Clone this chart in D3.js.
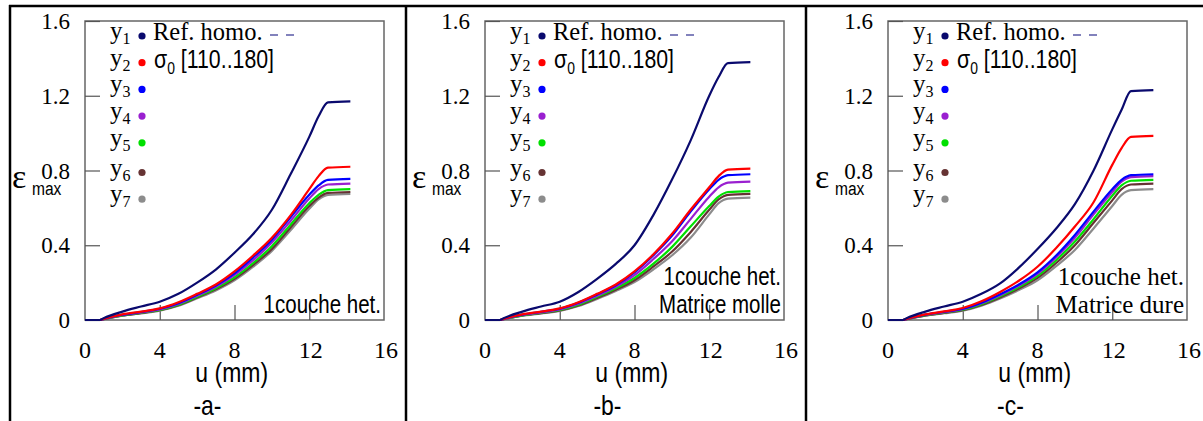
<!DOCTYPE html>
<html><head><meta charset="utf-8">
<script src="https://cdn.jsdelivr.net/npm/d3@7"></script>
<style>body{margin:0;background:#fff}</style>
</head><body>
<svg id="c" width="1203" height="421"></svg>
<script>
const uValues = [0, 0.8, 1, 2, 3, 4, 5, 6, 7, 8, 9, 10, 11, 12, 12.5, 13, 14.2];
const seriesNames = ["y1","y2","y3","y4","y5","y6","y7"];
const seriesColors = ["#0a0a6e","#ff0000","#0000ff","#9a1fd0","#00e000","#663333","#8c8c8c"];
const xTicks = [0, 4, 8, 12, 16];
const yTicks = [0, 0.4, 0.8, 1.2, 1.6];
const panelLetters = ["-a-","-b-","-c-"];

// panel a
const aY1 = [0,0,0.01,0.045,0.072,0.098,0.14,0.2,0.27,0.36,0.46,0.59,0.78,0.98,1.09,1.165,1.17];
const aY2 = [0,0,0.006,0.03,0.045,0.062,0.095,0.14,0.19,0.26,0.345,0.44,0.56,0.70,0.77,0.815,0.82];
const aY3 = [0,0,0.006,0.028,0.043,0.06,0.09,0.135,0.185,0.25,0.335,0.43,0.55,0.67,0.72,0.75,0.755];
const aY4 = [0,0,0.005,0.027,0.041,0.057,0.086,0.13,0.178,0.24,0.32,0.415,0.53,0.65,0.70,0.725,0.73];
const aY5 = [0,0,0.005,0.025,0.039,0.054,0.082,0.124,0.17,0.228,0.305,0.395,0.51,0.625,0.67,0.695,0.70];
const aY6 = [0,0,0.004,0.024,0.037,0.052,0.079,0.12,0.164,0.22,0.295,0.38,0.495,0.61,0.655,0.68,0.685];
const aY7 = [0,0,0.004,0.023,0.036,0.05,0.076,0.116,0.158,0.212,0.285,0.37,0.48,0.595,0.645,0.67,0.675];
// panel b
const bY1 = [0,0,0.01,0.045,0.072,0.098,0.15,0.22,0.3,0.4,0.56,0.75,0.96,1.2,1.3,1.375,1.38];
const bY2 = [0,0,0.006,0.03,0.045,0.062,0.095,0.14,0.19,0.26,0.35,0.46,0.59,0.71,0.77,0.805,0.81];
const bY3 = [0,0,0.006,0.029,0.044,0.06,0.092,0.137,0.186,0.255,0.345,0.45,0.58,0.70,0.75,0.775,0.78];
const bY4 = [0,0,0.005,0.027,0.041,0.057,0.087,0.13,0.178,0.24,0.325,0.42,0.54,0.66,0.71,0.735,0.74];
const bY5 = [0,0,0.005,0.025,0.039,0.054,0.082,0.124,0.17,0.225,0.3,0.39,0.50,0.61,0.66,0.685,0.69];
const bY6 = [0,0,0.004,0.024,0.037,0.051,0.078,0.118,0.162,0.213,0.285,0.365,0.47,0.59,0.645,0.67,0.675];
const bY7 = [0,0,0.004,0.023,0.035,0.049,0.075,0.113,0.155,0.203,0.27,0.345,0.44,0.565,0.625,0.65,0.655];
// panel c
const cY1 = [0,0,0.01,0.045,0.072,0.098,0.14,0.196,0.28,0.38,0.49,0.62,0.80,1.02,1.125,1.225,1.23];
const cY2 = [0,0,0.006,0.03,0.046,0.064,0.1,0.15,0.21,0.285,0.385,0.50,0.63,0.83,0.92,0.98,0.985];
const cY3 = [0,0,0.006,0.029,0.044,0.06,0.093,0.138,0.19,0.255,0.345,0.455,0.58,0.70,0.75,0.775,0.78];
const cY4 = [0,0,0.005,0.028,0.042,0.058,0.09,0.133,0.184,0.247,0.335,0.44,0.565,0.685,0.74,0.765,0.77];
const cY5 = [0,0,0.005,0.026,0.04,0.055,0.085,0.127,0.176,0.236,0.32,0.42,0.54,0.665,0.72,0.745,0.75];
const cY6 = [0,0,0.004,0.025,0.038,0.053,0.081,0.121,0.168,0.225,0.305,0.40,0.52,0.64,0.70,0.725,0.73];
const cY7 = [0,0,0.004,0.023,0.036,0.05,0.077,0.115,0.16,0.212,0.288,0.375,0.49,0.61,0.67,0.695,0.70];

const panels = [
  {left: 85, series: [aY1,aY2,aY3,aY4,aY5,aY6,aY7], notes: ["1couche het."], serif: false},
  {left: 485, series: [bY1,bY2,bY3,bY4,bY5,bY6,bY7], notes: ["1couche het.","Matrice molle"], serif: false},
  {left: 888, series: [cY1,cY2,cY3,cY4,cY5,cY6,cY7], notes: ["1couche het.","Matrice dure"], serif: true}
];

const svg = d3.select("#c");
const serif = "'Liberation Serif','Times New Roman',serif";
const sans = "'Liberation Sans',Arial,sans-serif";
const W = 299, H = 299, TOP = 21;
const NX = 0.82; // horizontal condensing for the narrow sans text

function narrowText(parent, x, y, size, anchor) {
  return parent.append("text")
    .attr("transform", `translate(${x},${y}) scale(${NX},1)`)
    .attr("text-anchor", anchor).attr("font-family", sans).attr("font-size", size);
}

// outer frame lines
svg.append("line").attr("x1",9).attr("x2",1203).attr("y1",6).attr("y2",6).attr("stroke","#000").attr("stroke-width",2.5);
[10, 406, 806].forEach(x => svg.append("line").attr("x1",x).attr("x2",x).attr("y1",5).attr("y2",421).attr("stroke","#000").attr("stroke-width",2.5));

panels.forEach((p, pi) => {
  const g = svg.append("g").attr("transform", `translate(${p.left},${TOP})`);
  const x = d3.scaleLinear().domain([0,16]).range([0,W]);
  const y = d3.scaleLinear().domain([0,1.6]).range([H,0]);

  // frame
  g.append("rect").attr("x",0).attr("y",0).attr("width",W).attr("height",H)
    .attr("fill","none").attr("stroke","#666").attr("stroke-width",1.5);

  // y axis ticks (inward) with labels
  const ya = d3.axisRight(y).tickValues(yTicks).tickSize(15).tickFormat("");
  const yg = g.append("g").call(ya);
  yg.select(".domain").remove();
  yg.selectAll("line").attr("stroke","#555").attr("stroke-width",1.2);
  g.selectAll(".ylab").data(yTicks).join("text")
    .attr("x",-15).attr("y",d=>y(d)+8).attr("text-anchor","end")
    .attr("font-family",serif).attr("font-size",23).text(d=>d===0?"0":d3.format(".1f")(d));

  // x axis ticks (inward, upward)
  const xa = d3.axisTop(x).tickValues([4,8,12]).tickSize(15).tickFormat("");
  const xg = g.append("g").attr("transform",`translate(0,${H})`).call(xa);
  xg.select(".domain").remove();
  xg.selectAll("line").attr("stroke","#555").attr("stroke-width",1.2);
  g.selectAll(".xlab").data(xTicks).join("text")
    .attr("x",d=>x(d)).attr("dx",d=>d===16?2:(d===12?1.5:0)).attr("y",H+38).attr("text-anchor","middle")
    .attr("font-family",serif).attr("font-size",24).text(d=>d);

  // axis titles
  narrowText(g, x(7.85), H+62, 28, "middle").text("u (mm)");
  narrowText(g, x(6.55), H+95, 28, "middle").text(panelLetters[pi]);
  g.append("text").attr("x",-73).attr("y",167).attr("font-family",serif).attr("font-size",34).text("ε");
  narrowText(g, -53, 174, 19, "start").text("max");

  // curves
  const line = d3.line().x((d,i)=>x(uValues[i])).y(d=>y(d)).curve(d3.curveMonotoneX);
  const order = [6,5,4,3,2,1,0];
  order.forEach(si => {
    g.append("path").datum(p.series[si]).attr("d",line).attr("fill","none")
      .attr("stroke",seriesColors[si]).attr("stroke-width",2.2);
  });

  // legend
  const lg = g.append("g").attr("transform","translate(25,14)");
  seriesNames.forEach((n,i) => {
    const yy = i*26.7 + (i>=5 ? 3 : 0);
    const t = lg.append("text").attr("x",0).attr("y",yy+4).attr("font-family",serif).attr("font-size",25);
    t.append("tspan").text("y");
    t.append("tspan").attr("font-size",16).attr("dy",5).text(n.slice(1));
    lg.append("circle").attr("cx",32).attr("cy",yy+1).attr("r",3.6).attr("fill",seriesColors[i]);
  });
  lg.append("text").attr("x",43).attr("y",5).attr("font-family",serif).attr("font-size",24.5).text("Ref. homo.");
  lg.append("line").attr("x1",160).attr("x2",190).attr("y1",0).attr("y2",0)
    .attr("stroke","#5a5aa6").attr("stroke-width",1.5).attr("stroke-dasharray","8,8");
  const s = narrowText(lg, 44, 33, 26, "start");
  s.append("tspan").text("σ");
  s.append("tspan").attr("font-size",17).attr("dy",6).text("0");
  s.append("tspan").attr("dy",-6).text(" [110..180]");

  // notes
  const n = p.notes.length;
  p.notes.forEach((txt,i) => {
    const yy = H-7-(n-1-i)*28;
    if (p.serif) {
      g.append("text").attr("x",W-3).attr("y",yy).attr("text-anchor","end")
        .attr("font-family",serif).attr("font-size",25).text(txt);
    } else {
      narrowText(g, W-3, yy, 25, "end").text(txt);
    }
  });
});
</script>
</body></html>
